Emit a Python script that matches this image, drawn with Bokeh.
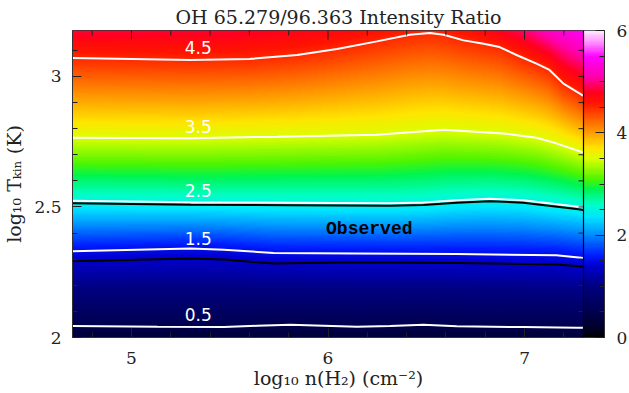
import numpy as np
from bokeh.plotting import figure
from bokeh.models import Range1d, LinearAxis, FixedTicker, LinearColorMapper, Span
from bokeh.core.properties import value
from bokeh.embed import file_html
from bokeh.resources import INLINE

# ---------------- data ----------------
title_text = "OH 65.279/96.363 Intensity Ratio"
x_label = "log₁₀ n(H₂) (cm⁻²)"
y_label = "log₁₀ Tₖᵢₙ (K)"

x_min, x_max = 4.7, 7.3          # log10 n(H2)
t_min, t_max = 2.0, 3.176        # log10 Tkin
cb_min, cb_max = 0.0, 6.0        # colour scale

x_ticks = [5, 6, 7]
x_minor = [4.8, 5.2, 5.4, 5.6, 5.8, 6.2, 6.4, 6.6, 6.8, 7.2]
y_ticks = [2.0, 2.5, 3.0]
y_minor = [2.1, 2.2, 2.3, 2.4, 2.6, 2.7, 2.8, 2.9, 3.1]
cb_ticks = [0, 2, 4, 6]
cb_minor = [0.5, 1, 1.5, 2.5, 3, 3.5, 4.5, 5, 5.5]

# contour lines (ratio levels) : x positions and log10 T positions
c05_x = [4.700, 5.132, 5.471, 5.640, 5.809, 5.978, 6.147, 6.316, 6.486, 6.655, 6.993, 7.264, 7.300]
c05_t = [2.0439, 2.0412, 2.0401, 2.0450, 2.0489, 2.0450, 2.0412, 2.0439, 2.0489, 2.0427, 2.0401, 2.0374, 2.0370]

c15_x = [4.700, 5.301, 5.471, 5.724, 6.147, 6.655, 7.162, 7.300]
c15_t = [2.3302, 2.3405, 2.3366, 2.3237, 2.3214, 2.3198, 2.3149, 2.3046]

c25_x = [4.700, 5.301, 5.809, 6.316, 6.486, 6.655, 6.824, 6.993, 7.264, 7.300]
c25_t = [2.5237, 2.5183, 2.5160, 2.5145, 2.5172, 2.5260, 2.5313, 2.5260, 2.5019, 2.4981]

c35_x = [4.700, 5.300, 5.741, 6.249, 6.589, 6.893, 7.061, 7.162, 7.300]
c35_t = [2.7653, 2.7634, 2.7691, 2.7767, 2.7958, 2.7817, 2.7653, 2.7435, 2.7080]

c45_x = [4.700, 5.000, 5.300, 5.600, 5.843, 6.046, 6.249, 6.416, 6.518, 6.589, 6.690, 6.792,
         6.873, 6.959, 7.061, 7.127, 7.198, 7.300]
c45_t = [3.0706, 3.0668, 3.0630, 3.0668, 3.0821, 3.1050, 3.1344, 3.1595, 3.1660, 3.1595, 3.1382,
         3.1252, 3.1126, 3.0821, 3.0489, 3.0248, 2.9725, 2.9256]

# observed ratio range (black contours)
obs_lo_x = [4.700, 5.301, 5.471, 5.724, 6.147, 6.655, 7.162, 7.300]
obs_lo_t = [2.2920, 2.3023, 2.2985, 2.2832, 2.2882, 2.2855, 2.2794, 2.2718]
obs_hi_x = [4.700, 5.301, 5.809, 6.316, 6.486, 6.655, 6.824, 6.993, 7.264, 7.300]
obs_hi_t = [2.5142, 2.5088, 2.5065, 2.5050, 2.5077, 2.5165, 2.5218, 2.5165, 2.4924, 2.4886]

# ratio at the bottom and top edges of the grid
bottom_val = 0.3
top_x = [4.70, 5.50, 6.00, 6.30, 6.52, 6.75, 7.00, 7.15, 7.30]
top_val = [4.85, 4.83, 4.72, 4.60, 4.52, 4.65, 4.95, 5.25, 5.48]

levels = [0.5, 1.5, 2.5, 3.5, 4.5]
level_labels = ["0.5", "1.5", "2.5", "3.5", "4.5"]
label_x = [5.34, 5.34, 5.34, 5.34, 5.34]
label_t = [2.088, 2.378, 2.563, 2.809, 3.111]

obs_text = "Observed"
obs_text_x, obs_text_t = 6.21, 2.414

# colour map anchors (value, r, g, b)
cmap_v = [0.0, 0.15, 0.5, 1.0, 1.4, 1.6, 2.0, 2.35, 2.6, 2.9, 3.1, 3.5, 3.7, 4.0, 4.3, 4.6, 4.8, 5.1, 5.5, 5.8, 6.0]
cmap_r = [0, 0, 0, 0, 0, 0, 0, 0, 0, 0, 80, 220, 255, 255, 255, 255, 255, 255, 255, 255, 255]
cmap_g = [0, 0, 0, 0, 0, 30, 140, 230, 255, 245, 245, 255, 230, 160, 90, 20, 0, 0, 0, 150, 230]
cmap_b = [0, 40, 80, 130, 210, 255, 255, 255, 200, 80, 0, 0, 0, 0, 0, 0, 30, 170, 255, 255, 255]

# ---------------- build ----------------
pv = np.linspace(cb_min, cb_max, 256)
palette = ["#%02x%02x%02x" % (int(np.interp(v, cmap_v, cmap_r)), int(np.interp(v, cmap_v, cmap_g)),
                              int(np.interp(v, cmap_v, cmap_b))) for v in pv]
mapper = LinearColorMapper(palette=palette, low=cb_min, high=cb_max)

contours = [(c05_x, c05_t), (c15_x, c15_t), (c25_x, c25_t), (c35_x, c35_t), (c45_x, c45_t)]

main_w, cb_w, frame_h = 511, 21, 307
x_end = x_max + (x_max - x_min) * cb_w / main_w

nx, ny = main_w, frame_h
xs = np.linspace(x_min, x_max, nx)
ts = np.linspace(t_min, t_max, ny)
Z = np.zeros((ny, nx), dtype=np.float32)
for j, xv in enumerate(xs):
    kt = [t_min] + [float(np.interp(xv, cx, ct)) for cx, ct in contours] + [t_max]
    kv = [bottom_val] + levels + [float(np.interp(xv, top_x, top_val))]
    Z[:, j] = np.interp(ts, kt, kv)

cb_img = np.linspace(cb_min, cb_max, frame_h).reshape(-1, 1).astype(np.float32)

p = figure(x_range=Range1d(x_min, x_end), y_range=Range1d(t_min, t_max),
           frame_width=main_w + cb_w, frame_height=frame_h,
           min_border_left=66, min_border_right=23, min_border_top=30, min_border_bottom=46,
           output_backend="svg", toolbar_location=None, title=title_text)
p.extra_y_ranges = {"cb": Range1d(cb_min, cb_max)}
p.grid.visible = False
p.outline_line_color = "#333333"
p.outline_line_width = 1
p.background_fill_color = "white"
p.border_fill_color = "white"

p.title.text_font = "DejaVu Serif"
p.title.text_font_size = "19px"
p.title.text_font_style = "normal"
p.title.text_color = "#222222"
p.title.align = "center"
p.title.standoff = 6

p.image(image=[Z], x=x_min, y=t_min, dw=x_max - x_min, dh=t_max - t_min, color_mapper=mapper)
p.image(image=[cb_img], x=x_max, y=cb_min, dw=x_end - x_max, dh=cb_max - cb_min,
        color_mapper=mapper, y_range_name="cb")

for cx, ct in contours:
    p.line(cx, ct, line_color="white", line_width=2)
p.line(obs_lo_x, obs_lo_t, line_color="black", line_width=2)
p.line(obs_hi_x, obs_hi_t, line_color="black", line_width=2)

p.text(x=label_x, y=label_t, text=level_labels, text_color="white", text_font=value("DejaVu Sans"),
       text_font_size="17px", text_align="center", text_baseline="middle")
p.text(x=[obs_text_x], y=[obs_text_t], text=[obs_text], text_color="black",
       text_font=value("Liberation Mono"), text_font_style="bold", text_font_size="18px",
       text_align="center", text_baseline="middle")

p.add_layout(Span(location=x_max, dimension="height", line_color="black", line_width=1.2))

# inward ticks on the right edge of the main panel and on the top edge
px_x = (x_max - x_min) / main_w
px_t = (t_max - t_min) / frame_h
ry = y_minor + y_ticks
p.segment(x0=[x_max] * len(ry), x1=[x_max - 5 * px_x] * len(ry), y0=ry, y1=ry,
          line_color="#222222", line_width=1)
p.segment(x0=x_minor, x1=x_minor, y0=[t_max] * len(x_minor), y1=[t_max - 5 * px_t] * len(x_minor),
          line_color="#222222", line_width=1)
p.segment(x0=x_ticks, x1=x_ticks, y0=[t_max] * len(x_ticks), y1=[t_max - 9 * px_t] * len(x_ticks),
          line_color="#222222", line_width=1)

def style_axis(ax):
    ax.major_tick_in = 9
    ax.major_tick_out = 0
    ax.minor_tick_in = 5
    ax.minor_tick_out = 0
    ax.axis_line_color = "#333333"
    ax.major_tick_line_color = "#222222"
    ax.minor_tick_line_color = "#222222"
    ax.major_label_text_font = "DejaVu Serif"
    ax.major_label_text_font_size = "17px"
    ax.major_label_text_color = "#222222"
    ax.axis_label_text_font = "DejaVu Serif"
    ax.axis_label_text_font_size = "19px"
    ax.axis_label_text_font_style = "normal"
    ax.axis_label_text_color = "#222222"

xa = p.xaxis[0]
style_axis(xa)
xa.ticker = FixedTicker(ticks=x_ticks, minor_ticks=x_minor)
xa.major_label_standoff = 14
xa.axis_label = x_label
xa.axis_label_standoff = 0

ya = p.yaxis[0]
style_axis(ya)
ya.ticker = FixedTicker(ticks=y_ticks, minor_ticks=y_minor)
ya.major_label_standoff = 11
ya.major_label_overrides = {2.0: "2", 2.5: "2.5", 3.0: "3"}
ya.axis_label = y_label
ya.axis_label_standoff = 6

cba = LinearAxis(y_range_name="cb", ticker=FixedTicker(ticks=cb_ticks, minor_ticks=cb_minor))
style_axis(cba)
cba.major_label_standoff = 12
p.add_layout(cba, "right")

open("out.html", "w").write(file_html(p, INLINE))
